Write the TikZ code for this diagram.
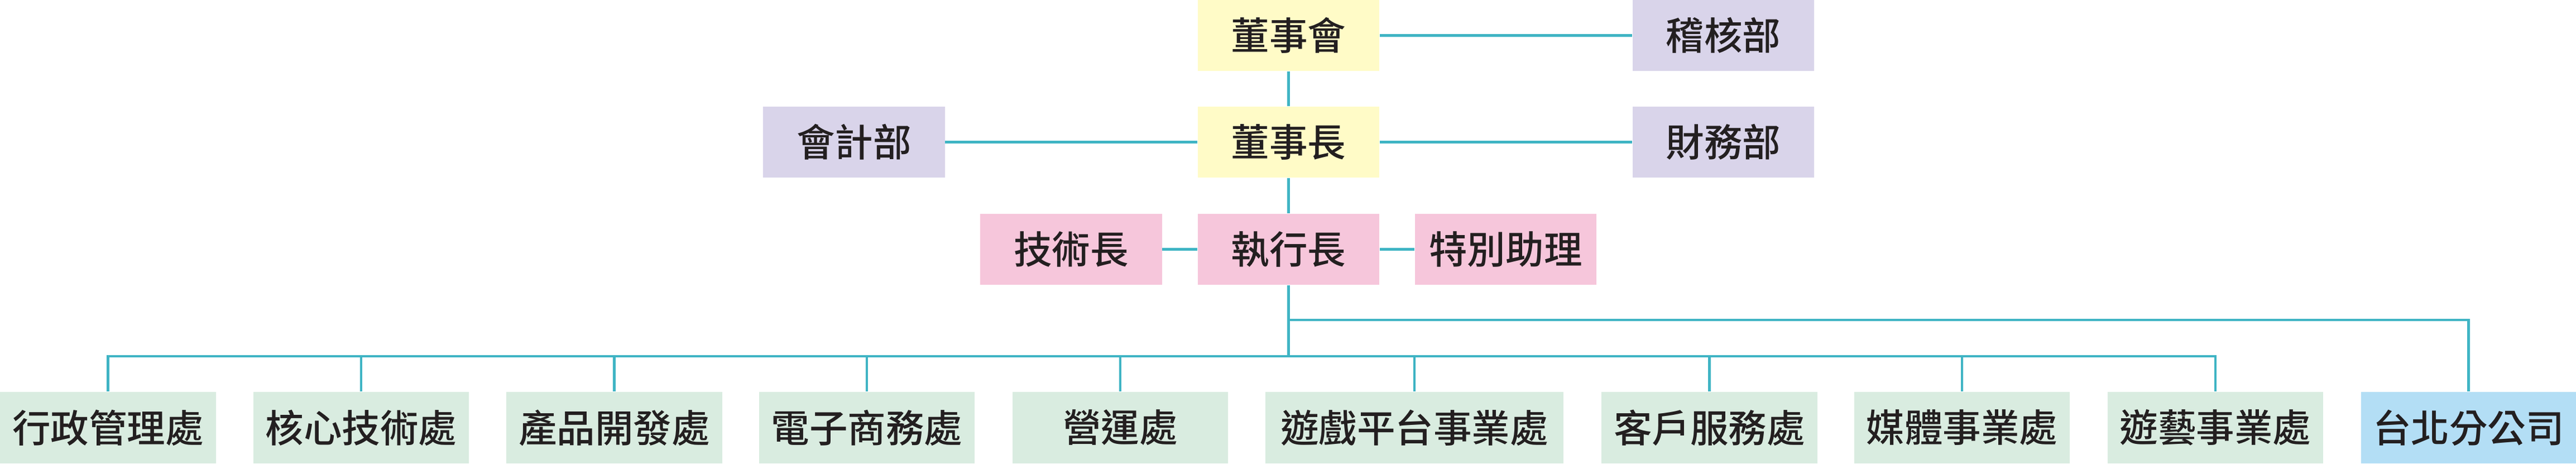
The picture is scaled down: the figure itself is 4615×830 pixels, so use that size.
\documentclass[tikz,border=0pt]{standalone}
\usepackage{fontspec}
\newfontfamily\cjk{Noto Sans CJK TC Medium}
\definecolor{boardy}{HTML}{FFFBC7}
\definecolor{staffv}{HTML}{D9D4EA}
\definecolor{execp}{HTML}{F6C6DB}
\definecolor{unitg}{HTML}{D9ECE0}
\definecolor{branchb}{HTML}{B3DEF5}
\definecolor{linet}{HTML}{3FB4C4}
\definecolor{ink}{HTML}{231F20}
\tikzset{
  box/.style={rectangle, inner sep=0pt, minimum width=3.25cm, minimum height=1.27cm,
    text=ink, font=\cjk\fontsize{19.5}{20}\selectfont},
  unit/.style={box, fill=unitg, minimum height=1.28cm},
  link/.style={draw=linet, line width=1.3pt}
}
\begin{document}
\begin{tikzpicture}[x=0.01cm, y=-0.01cm]
  \useasboundingbox (0,0) rectangle (4615,830);
  % top levels
  \node[box, fill=boardy] (board) at (2308.5,63.5) {董事會};
  \node[box, fill=staffv] (audit) at (3087.5,63.5) {稽核部};
  \node[box, fill=boardy] (chair) at (2308.5,254.5) {董事長};
  \node[box, fill=staffv] (acct) at (1530,254.5) {會計部};
  \node[box, fill=staffv] (fin) at (3087.5,254.5) {財務部};
  \node[box, fill=execp] (ceo) at (2308.5,446.5) {執行長};
  \node[box, fill=execp] (cto) at (1919,446.5) {技術長};
  \node[box, fill=execp] (asst) at (2697.5,446.5) {特別助理};
  \draw[link] (board) -- (audit);
  \draw[link] (board) -- (chair);
  \draw[link] (acct) -- (chair) -- (fin);
  \draw[link] (chair) -- (ceo);
  \draw[link] (cto) -- (ceo) -- (asst);
  % branch office and units
  \coordinate (hub) at (2308.5,573);
  \coordinate (bus) at (2308.5,638);
  \node[box, fill=branchb, minimum width=3.85cm, minimum height=1.28cm] (taipei) at (4422.5,766) {台北分公司};
  \draw[link] (ceo) -- (hub) -| (taipei);
  \draw[link] (hub) -- (bus);
  \foreach \txt/\x/\w [count=\i] in {行政管理處/193.5/3.86, 核心技術處/647/3.86,
      產品開發處/1100.5/3.86, 電子商務處/1553/3.86, 營運處/2007/3.86,
      遊戲平台事業處/2534/5.34, 客戶服務處/3062.5/3.86, 媒體事業處/3515/3.86,
      遊藝事業處/3969/3.86} {
    \node[unit, minimum width=\w cm] (u\i) at (\x,766) {\txt};
    \draw[link] (u\i.north) |- (bus);
  }
\end{tikzpicture}
\end{document}
